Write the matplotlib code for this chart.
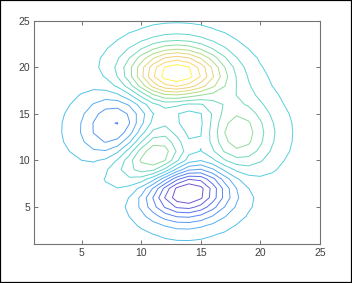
import numpy as np
import matplotlib
matplotlib.use("Agg")
import matplotlib.pyplot as plt
from matplotlib.colors import LinearSegmentedColormap
from matplotlib.patches import Rectangle

# NOTE ON DATA: the reference is a MATLAB contour of the standard peaks(25)
# test surface (a 25x25 grid drawn against indices 1..25). Its 625 grid values
# cannot be read point by point from the picture, so Z below is computed from
# MATLAB's published peaks formula instead of being typed in as read values.
# The contour levels are likewise computed the way MATLAB picks them
# automatically (16 evenly spaced levels, with the data min/max left out);
# this matched the ring positions measured on the reference.
n_points = 25
coord_min, coord_max = -3.0, 3.0
n_levels = 16
xticks = [5, 10, 15, 20, 25]
yticks = [5, 10, 15, 20, 25]

# Parula-like colormap anchors (as they appear on thin lines)
cmap_pos = [0.0, 0.15, 0.30, 0.45, 0.60, 0.70, 0.80, 0.90, 1.0]
cmap_cols = [
    (0.45, 0.33, 0.82),
    (0.33, 0.45, 0.95),
    (0.35, 0.64, 0.96),
    (0.32, 0.81, 0.88),
    (0.44, 0.85, 0.73),
    (0.62, 0.87, 0.54),
    (0.87, 0.85, 0.47),
    (0.99, 0.79, 0.47),
    (1.00, 0.95, 0.32),
]
parula = LinearSegmentedColormap.from_list("parula", list(zip(cmap_pos, cmap_cols)))

u = np.linspace(coord_min, coord_max, n_points)
X, Y = np.meshgrid(u, u)
Z = (3 * (1 - X) ** 2 * np.exp(-X ** 2 - (Y + 1) ** 2)
     - 10 * (X / 5 - X ** 3 - Y ** 5) * np.exp(-X ** 2 - Y ** 2)
     - 1 / 3 * np.exp(-(X + 1) ** 2 - Y ** 2))
idx = np.arange(1, n_points + 1)
levels = np.linspace(Z.min(), Z.max(), n_levels + 2)[1:-1]

fig = plt.figure(figsize=(3.52, 2.83), dpi=100)
ax = fig.add_axes([34 / 352, 1 - 244.3 / 283, (320 - 34) / 352, (244.3 - 20.7) / 283])
ax.contour(idx, idx, Z, levels=levels, cmap=parula,
           vmin=levels.min(), vmax=levels.max(), linewidths=0.7)
ax.set_xlim(1, 25)
ax.set_ylim(1, 25)
ax.set_xticks(xticks)
ax.set_yticks(yticks)
edge = (0.45, 0.45, 0.45)
for s in ax.spines.values():
    s.set_color(edge)
    s.set_linewidth(0.8)
ax.tick_params(direction="in", length=3, width=0.7, color=edge,
               labelcolor=(0.25, 0.25, 0.25),
               top=True, right=True, labelsize=7.5, pad=3)
for lab in ax.get_xticklabels() + ax.get_yticklabels():
    lab.set_family("Liberation Sans")

fig.patches.append(Rectangle((0, 0), 1, 1,
                             transform=fig.transFigure, fill=False,
                             edgecolor="black", linewidth=1.6))
fig.savefig("out.png", dpi=100)
